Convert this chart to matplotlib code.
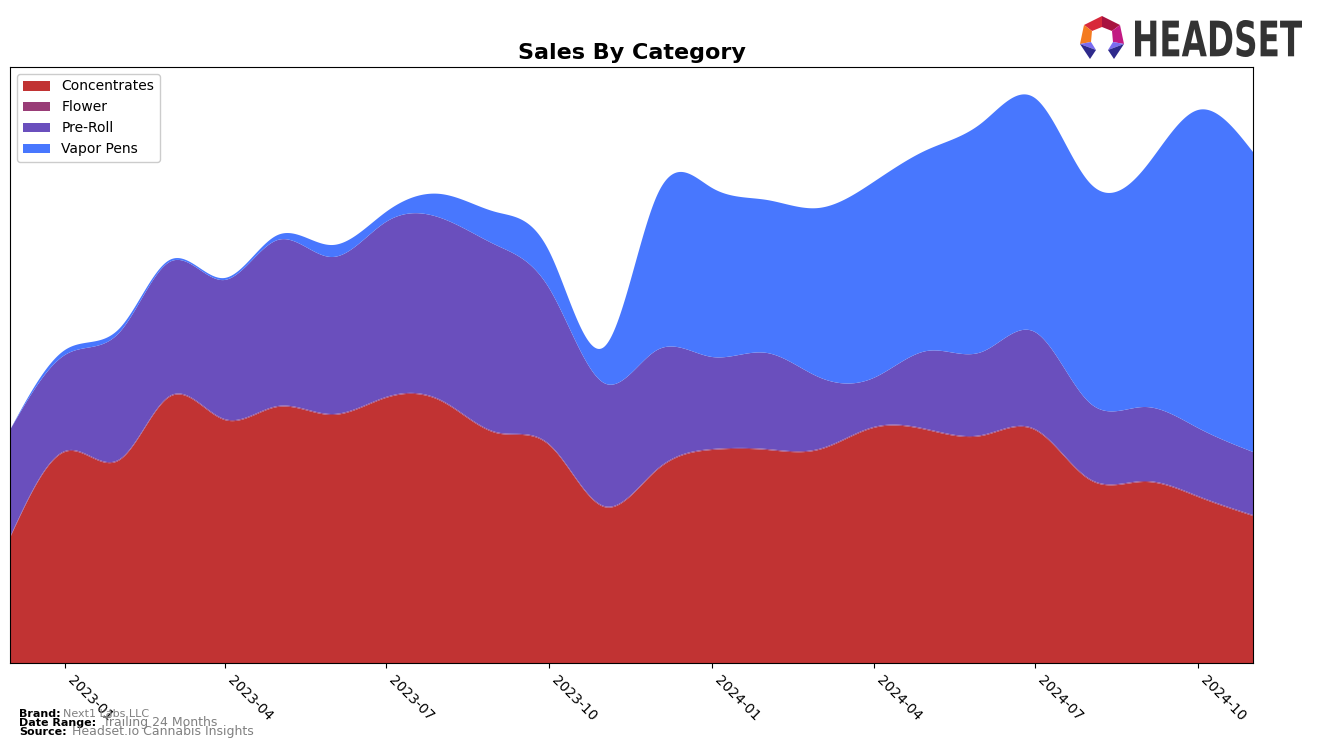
import numpy as np
import pandas as pd
import matplotlib
matplotlib.use("Agg")
import matplotlib.pyplot as plt
import matplotlib.dates as mdates
from matplotlib.patches import Polygon, PathPatch
from matplotlib.textpath import TextPath
from matplotlib.font_manager import FontProperties
from matplotlib.transforms import Affine2D

# ---- data (monthly) ----
months = pd.date_range("2022-12-01", periods=24, freq="MS")
categories = ["Concentrates", "Flower", "Pre-Roll", "Vapor Pens"]
concentrates = [125, 211, 203, 266, 243, 256, 248, 265, 262, 230, 218, 156,
                193, 213, 213, 213, 235, 233, 227, 233, 183, 181, 166, 147]
flower = [1] * 24
pre_roll = [107, 96, 127, 134, 139, 166, 157, 175, 182, 187, 156, 123,
            119, 92, 96, 72, 49, 78, 83, 97, 76, 74, 68, 63]
vapor_pens = [0, 5, 4, 2, 2, 5, 12, 10, 24, 33, 37, 36,
              155, 169, 153, 169, 196, 201, 229, 234, 220, 239, 318, 300]
colors = ["#c13333", "#993d77", "#6a4fbd", "#4877fe"]
tick_months = ["2023-01", "2023-04", "2023-07", "2023-10",
               "2024-01", "2024-04", "2024-07", "2024-10"]


def natural_spline(x, y, xs):
    x = np.asarray(x, float); y = np.asarray(y, float)
    n = len(x); h = np.diff(x)
    A = np.zeros((n, n)); r = np.zeros(n)
    A[0, 0] = 1; A[-1, -1] = 1
    for i in range(1, n - 1):
        A[i, i - 1] = h[i - 1]; A[i, i] = 2 * (h[i - 1] + h[i]); A[i, i + 1] = h[i]
        r[i] = 6 * ((y[i + 1] - y[i]) / h[i] - (y[i] - y[i - 1]) / h[i - 1])
    M = np.linalg.solve(A, r)
    idx = np.clip(np.searchsorted(x, xs) - 1, 0, n - 2)
    x0, x1 = x[idx], x[idx + 1]; hh = x1 - x0
    a = (x1 - xs) / hh; b = (xs - x0) / hh
    return (a * y[idx] + b * y[idx + 1]
            + ((a ** 3 - a) * M[idx] + (b ** 3 - b) * M[idx + 1]) * hh ** 2 / 6)


xnum = mdates.date2num(months)
xs = np.linspace(xnum[0], xnum[-1], 1500)
series = [concentrates, flower, pre_roll, vapor_pens]
smooth = [np.clip(natural_spline(xnum, s, xs), 0, None) for s in series]

fig = plt.figure(figsize=(13.17, 7.48), dpi=100)
ax = fig.add_axes([10 / 1317, 85 / 748, 1243 / 1317, 596 / 748])
ax.stackplot(xs, smooth, colors=colors, labels=categories)
ax.set_xlim(xnum[0], xnum[-1])
ax.set_ylim(0, 596)
ax.set_yticks([])
ax.set_xticks(mdates.date2num(pd.to_datetime(tick_months)))
ax.set_xticklabels(tick_months, rotation=-45, ha="left", rotation_mode="default", fontsize=10)
ax.set_title("Sales By Category", fontsize=16, fontweight="bold", pad=6)
ax.legend(loc="upper left", fontsize=10, framealpha=1)

# footer
fig.text(19 / 1317, 1 - 717 / 748, "Brand:", fontsize=8, fontweight="bold")
fig.text(63 / 1317, 1 - 717 / 748, "Next1 Labs LLC", fontsize=8, color="gray")
fig.text(19 / 1317, 1 - 726 / 748, "Date Range:", fontsize=8, fontweight="bold")
fig.text(103 / 1317, 1 - 726 / 748, "Trailing 24 Months", fontsize=9, color="gray")
fig.text(19 / 1317, 1 - 735 / 748, "Source:", fontsize=8, fontweight="bold")
fig.text(72 / 1317, 1 - 735 / 748, "Headset.io Cannabis Insights", fontsize=9, color="gray")

# logo
lax = fig.add_axes([1075 / 1317, 1 - 65 / 748, 240 / 1317, 55 / 748])
lax.set_xlim(1075, 1315); lax.set_ylim(65, 10); lax.axis("off")
pieces = [
    ([(1102, 16), (1084, 25), (1092, 31), (1102, 27)], "#d8283a"),
    ([(1102, 16), (1120, 25), (1112, 31), (1102, 27)], "#a8123f"),
    ([(1084, 25), (1080, 44), (1091, 42), (1092, 31)], "#f47b20"),
    ([(1120, 25), (1124, 44), (1113, 42), (1112, 31)], "#c21a83"),
    ([(1080, 44), (1091, 42), (1096, 50)], "#7a6cf0"),
    ([(1080, 44), (1096, 50), (1090, 59)], "#2e2a8c"),
    ([(1124, 44), (1113, 42), (1108, 50)], "#7a6cf0"),
    ([(1124, 44), (1108, 50), (1114, 59)], "#2e2a8c"),
]
for pts, c in pieces:
    lax.add_patch(Polygon(pts, closed=True, color=c, lw=0))
tp = TextPath((0, 0), "HEADSET", size=10,
              prop=FontProperties(family="DejaVu Sans", weight="bold"))
bb = tp.get_extents()
sx = (1302 - 1135) / bb.width; sy = (57 - 20) / bb.height
tr = Affine2D().translate(-bb.x0, -bb.y0).scale(sx, -sy).translate(1135, 57)
lax.add_patch(PathPatch(tr.transform_path(tp), color="#333333", lw=0))

fig.savefig("out.png", dpi=100)
